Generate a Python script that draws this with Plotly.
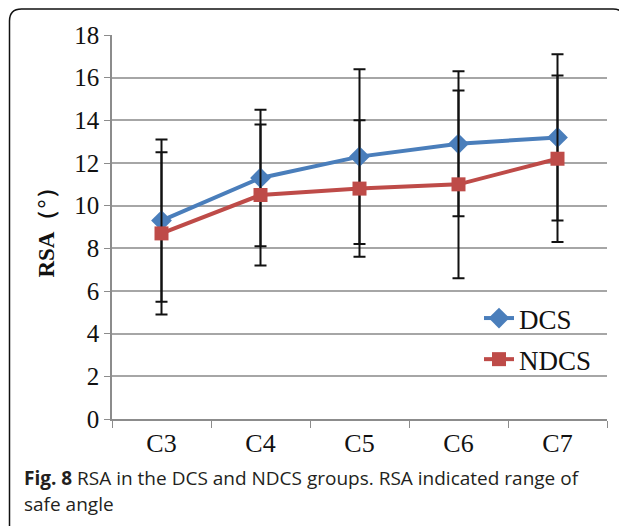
import plotly.graph_objects as go

categories = ["C3", "C4", "C5", "C6", "C7"]
dcs_values = [9.3, 11.3, 12.3, 12.9, 13.2]
dcs_errors = [3.8, 3.2, 4.1, 3.4, 3.9]
ndcs_values = [8.7, 10.5, 10.8, 11.0, 12.2]
ndcs_errors = [3.8, 3.3, 3.2, 4.4, 3.9]
y_ticks = [0, 2, 4, 6, 8, 10, 12, 14, 16, 18]

OFF = 8  # page body margin
W, H = 627 - OFF, 526 - OFF
L, R, T, B = 112 - OFF, 20, 35 - OFF, 107
PW, PH = W - L - R, H - T - B


def px(x):
    return (x - OFF - L) / PW


def py(y):
    return (H - B - (y - OFF)) / PH


fig = go.Figure()
fig.add_trace(go.Scatter(
    x=categories, y=dcs_values, name="DCS", mode="lines+markers",
    line=dict(color="#4A7EBB", width=4),
    marker=dict(symbol="diamond", size=16, color="#4A7EBB"),
    error_y=dict(type="data", array=dcs_errors, color="#111111", thickness=2, width=6),
    legendgroup="a",
))
fig.add_trace(go.Scatter(
    x=categories, y=ndcs_values, name="NDCS", mode="lines+markers",
    line=dict(color="#BE4B48", width=4),
    marker=dict(symbol="square", size=14, color="#BE4B48"),
    error_y=dict(type="data", array=ndcs_errors, color="#111111", thickness=2, width=6),
    legendgroup="b",
))

serif = "Liberation Serif, Times New Roman, serif"

# rounded frame
r = 12
x0, y0, x1, y1 = 9.5, 9, 625, 560
path = (f"M {px(x0)},{py(y1)} L {px(x0)},{py(y0 + r)} "
        f"Q {px(x0)},{py(y0)} {px(x0 + r)},{py(y0)} "
        f"L {px(x1 - r)},{py(y0)} Q {px(x1)},{py(y0)} {px(x1)},{py(y0 + r)} "
        f"L {px(x1)},{py(y1)}")
fig.add_shape(type="path", xref="paper", yref="paper", path=path,
              line=dict(color="#111111", width=1.5), layer="above")

cap_font = dict(family="Open Sans, sans-serif", size=19, color="#231F20")
fig.add_annotation(xref="paper", yref="paper", x=px(22), y=py(478),
                   xanchor="left", yanchor="middle", showarrow=False,
                   text="<b>Fig. 8</b> RSA in the DCS and NDCS groups. RSA indicated range of",
                   font=cap_font)
fig.add_annotation(xref="paper", yref="paper", x=px(22), y=py(504),
                   xanchor="left", yanchor="middle", showarrow=False,
                   text="safe angle", font=cap_font)

fig.update_layout(
    width=W, height=H,
    margin=dict(l=L, r=R, t=T, b=B),
    paper_bgcolor="white", plot_bgcolor="white",
    showlegend=True,
    legend=dict(x=px(479), y=py(294), xanchor="left", yanchor="top",
                font=dict(family=serif, size=27, color="#111111"),
                bgcolor="rgba(0,0,0,0)", traceorder="grouped", tracegroupgap=3,
                itemwidth=30),
    xaxis=dict(
        type="category", showgrid=False, showline=True, linecolor="#8C8C8C", linewidth=1.5,
        ticks="outside", ticklen=7, tickcolor="#8C8C8C", tickson="boundaries",
        tickfont=dict(family=serif, size=26, color="#111111"),
        range=[-0.5, 4.5],
    ),
    yaxis=dict(
        range=[0, 18], tickvals=y_ticks, showgrid=True, gridcolor="#A6A6A6", gridwidth=1.5,
        showline=True, linecolor="#8C8C8C", linewidth=1.5, ticks="outside", ticklen=6,
        tickcolor="#8C8C8C", zeroline=False,
        tickfont=dict(family=serif, size=25, color="#111111"),
        title=dict(text="<b>RSA（°）</b>", font=dict(family=serif, size=23, color="#111111"),
                   standoff=13),
    ),
)

fig.write_html("out.html")
